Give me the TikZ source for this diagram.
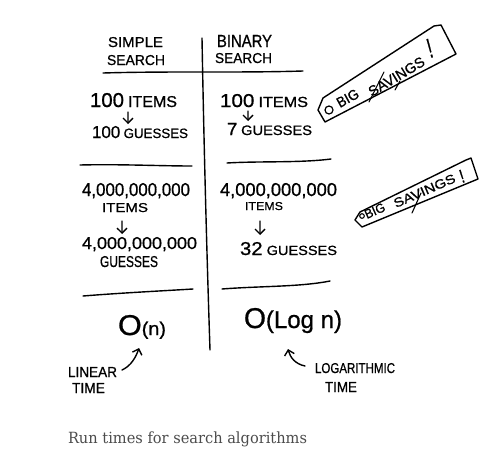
\documentclass[tikz,border=0pt]{standalone}
\usepackage{fontspec}
\usepackage{graphicx}
\setmainfont{Liberation Sans}
\newfontfamily\hand{Liberation Sans}[FakeBold=0.8]
\newfontfamily\capfont{DejaVu Serif}
\usetikzlibrary{arrows.meta}
\newcommand{\hw}[3]{\resizebox{#1pt}{#2pt}{#3}}
\tikzset{
  ht/.style={inner sep=0pt, outer sep=0pt, anchor=base west, font=\hand},
  pen/.style={line width=1.4pt, line cap=round, line join=round},
  harrow/.style={pen, -{Straight Barb[length=5pt,width=10pt,line width=1.4pt]}},
}
\begin{document}
\begin{tikzpicture}[x=1pt,y=-1pt]
\fill[white] (0,0) rectangle (495,466);
\useasboundingbox (0,0) rectangle (495,466);

% headers
\node[ht] (simple) at (108,47) {\hw{55}{10}{SIMPLE}};
\node[ht] (searchl) at (107,65) {\hw{58}{10}{SEARCH}};
\node[ht] (binary) at (217,47) {\hw{55}{12}{BINARY}};
\node[ht] (searchr) at (215,63) {\hw{57}{10}{SEARCH}};

% grid lines
\draw[pen] (202,38) .. controls (204,150) and (207,260) .. (210,350);
\draw[pen] (103,73) .. controls (170,71) and (240,73) .. (303,71);
\draw[pen] (80,165) .. controls (120,164) and (160,166) .. (192,166);
\draw[pen] (227,163) .. controls (260,161) and (300,163) .. (331,159);
\draw[pen] (83,296) .. controls (120,293) and (160,291) .. (193,289);
\draw[pen] (222,289) .. controls (260,286) and (300,287) .. (330,281);

% section 1
\node[ht] (l1a) at (90,107) {\hw{87}{14}{{\fontsize{14}{14}\selectfont 100} {\fontsize{11}{11}\selectfont ITEMS}}};
\node[ht] (l1b) at (92,138) {\hw{96}{12}{{\fontsize{14}{14}\selectfont 100} {\fontsize{11}{11}\selectfont GUESSES}}};
\node[ht] (r1a) at (220,107) {\hw{88}{13}{{\fontsize{14}{14}\selectfont 100} {\fontsize{11}{11}\selectfont ITEMS}}};
\node[ht] (r1b) at (227,135) {\hw{85}{12}{{\fontsize{14}{14}\selectfont 7} {\fontsize{11}{11}\selectfont GUESSES}}};
\draw[harrow] ([shift={(-5.5,5)}]l1a.base) -- ([shift={(-12,-14)}]l1b.base);
\draw[harrow] ([shift={(-16,4)}]r1a.base) -- ([shift={(-21.5,-14)}]r1b.base);

% section 2
\node[ht] (l2a) at (82,196) {\hw{108}{13}{4,000,000,000}};
\node[ht] (l2i) at (102,212) {\hw{46}{9}{ITEMS}};
\node[ht] (l2b) at (82,249) {\hw{115}{12}{4,000,000,000}};
\node[ht] (l2g) at (100,267) {\hw{58}{11}{GUESSES}};
\node[ht] (r2a) at (220,196) {\hw{117}{13}{4,000,000,000}};
\node[ht] (r2i) at (245,210) {\hw{38}{8}{ITEMS}};
\node[ht] (r2b) at (240,255) {\hw{97}{13}{{\fontsize{14}{14}\selectfont 32} {\fontsize{10}{10}\selectfont GUESSES}}};
\draw[harrow] ([shift={(-3,9)}]l2i.base) -- ([shift={(-17.5,-15)}]l2b.base);
\draw[harrow] ([shift={(-4,11)}]r2i.base) -- ([shift={(-28.5,-20)}]r2b.base);

% big O
\node[ht] (on) at (118,335) {\hw{48}{20}{{\fontsize{20}{20}\selectfont O}{\fontsize{13}{13}\selectfont (n)}}};
\node[ht] (olog) at (244,328) {\hw{98}{20}{{\fontsize{20}{20}\selectfont O}{\fontsize{17}{17}\selectfont (Log n)}}};
\node[ht] (linear) at (68,377) {\hw{49}{10}{LINEAR}};
\node[ht] (timel) at (72,393) {\hw{33}{10}{TIME}};
\node[ht] (logar) at (315,373) {\hw{80}{10}{LOGARITHMIC}};
\node[ht] (timer) at (325,392) {\hw{32}{10}{TIME}};
\draw[harrow] ([shift={(5,-7)}]linear.base east) .. controls +(9,-4) and +(-3,9) .. ([shift={(-3,13)}]on.base);
\draw[harrow] ([shift={(-10,-7)}]logar.base west) .. controls +(-10,-2) and +(2,8) .. ([shift={(-5,21)}]olog.base);

% tag 1
\draw[pen] (323,98) -- (434,26) -- (441,25) -- (456,54) -- (325,122) -- (318,110) -- cycle;
\draw[line width=1.2pt] (329,110) circle (4);
\node[ht, rotate=29] (t1big) at (340,108) {\hw{23}{10}{BIG}};
\node[ht, rotate=31] (t1sav) at (372,97) {\hw{63}{10}{SAVINGS}};
\node[ht, rotate=15] (t1ex) at (430,58) {\hw{4.5}{19}{!}};
\draw[pen, line width=1.1pt] (369,102) -- (384,72);
\draw[pen, line width=1.1pt] (395,90) -- (400,81);

% tag 2
\draw[pen] (360,212) -- (466,160) -- (471,158) -- (478,179) -- (362,227) -- (355,220) -- cycle;
\draw[line width=1.1pt] (362,216) circle (2.3);
\node[ht, rotate=24] (t2big) at (367,219) {\hw{21}{9}{BIG}};
\node[ht, rotate=23.5] (t2sav) at (396,208) {\hw{66}{9}{SAVINGS}};
\node[ht, rotate=18] (t2ex) at (462,183) {\hw{4}{13}{!}};
\draw[pen, line width=1.1pt] (412,213) -- (421,193);

% caption
\node[ht, font=\capfont, text=black!70] (cap) at (68,443) {\resizebox{239pt}{11.7pt}{Run times for search algorithms}};
\end{tikzpicture}
\end{document}
